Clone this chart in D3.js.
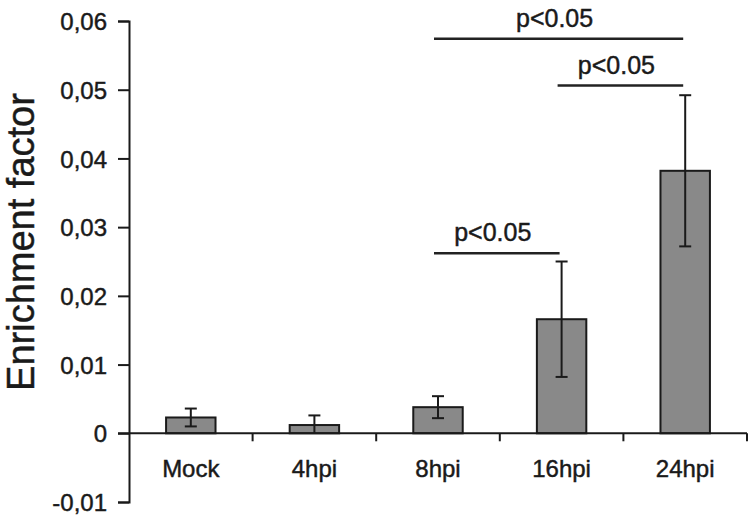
<!DOCTYPE html>
<html>
<head>
<meta charset="utf-8">
<script src="https://cdn.jsdelivr.net/npm/d3@7"></script>
<style>
  body { margin: 0; background: #fff; }
  svg text { font-family: "Liberation Sans", Arial, sans-serif; fill: #1a1a1a; stroke: #1a1a1a; stroke-width: 0.45px; }
</style>
</head>
<body>
<svg width="750" height="515"></svg>
<script>
  // data
  const categories = ['Mock', '4hpi', '8hpi', '16hpi', '24hpi'];
  const means = [0.0023, 0.0012, 0.0038, 0.0166, 0.0382];
  const errors = [0.0013, 0.0014, 0.0016, 0.0084, 0.011];
  const yTicks = [-0.01, 0, 0.01, 0.02, 0.03, 0.04, 0.05, 0.06];
  const yTickLabels = ['-0,01', '0', '0,01', '0,02', '0,03', '0,04', '0,05', '0,06'];
  const sigFrom = ['8hpi', '16hpi', '8hpi'];
  const sigTo = ['24hpi', '24hpi', '16hpi'];
  const sigLevel = [0.0574, 0.0506, 0.0262];
  const sigLabel = ['p<0.05', 'p<0.05', 'p<0.05'];

  const svg = d3.select('svg');
  const ink = '#1a1a1a';

  const x = d3.scaleBand()
    .domain(categories)
    .range([129, 747])
    .paddingInner(0.6)
    .paddingOuter(0.3);

  const y = d3.scaleLinear()
    .domain([-0.01, 0.06])
    .range([502, 21]);

  const step = x.step();
  const x0 = x.range()[0];
  const center = c => x(c) + x.bandwidth() / 2;

  // y axis
  const yAxis = d3.axisLeft(y)
    .tickValues(yTicks)
    .tickFormat((d, i) => yTickLabels[i])
    .tickSize(11)
    .tickPadding(11);

  const yAxisG = svg.append('g')
    .attr('transform', `translate(${x0},0)`)
    .call(yAxis);
  yAxisG.selectAll('path, line').attr('stroke', ink).attr('stroke-width', 2);
  yAxisG.selectAll('text')
    .attr('font-size', 24)
    .attr('fill', ink)
    .attr('dy', '0.36em');

  svg.append('text')
    .attr('transform', 'translate(34,242) rotate(-90)')
    .attr('text-anchor', 'middle')
    .attr('font-size', 38)
    .text('Enrichment factor');

  // bars
  svg.selectAll('rect.bar').data(categories)
    .enter().append('rect')
      .attr('class', 'bar')
      .attr('x', d => x(d))
      .attr('width', x.bandwidth())
      .attr('y', (d, i) => y(means[i]))
      .attr('height', (d, i) => y(0) - y(means[i]))
      .attr('fill', '#898989')
      .attr('stroke', ink)
      .attr('stroke-width', 2);

  // x axis line and category dividers
  svg.append('line')
    .attr('x1', x0 - 11).attr('x2', x.range()[1])
    .attr('y1', y(0)).attr('y2', y(0))
    .attr('stroke', ink).attr('stroke-width', 2);

  svg.selectAll('line.divider').data(categories)
    .enter().append('line')
      .attr('class', 'divider')
      .attr('x1', (d, i) => x0 + (i + 1) * step)
      .attr('x2', (d, i) => x0 + (i + 1) * step)
      .attr('y1', y(0)).attr('y2', y(0) + 8)
      .attr('stroke', ink).attr('stroke-width', 2);

  svg.selectAll('text.cat').data(categories)
    .enter().append('text')
      .attr('class', 'cat')
      .attr('x', d => center(d))
      .attr('y', 477)
      .attr('text-anchor', 'middle')
      .attr('font-size', 24)
      .text(d => d);

  // error bars
  const capW = 6;
  const err = svg.selectAll('g.err').data(categories)
    .enter().append('g').attr('class', 'err')
      .attr('stroke', ink).attr('stroke-width', 2);
  err.append('line')
    .attr('x1', d => center(d)).attr('x2', d => center(d))
    .attr('y1', (d, i) => y(means[i] + errors[i]))
    .attr('y2', (d, i) => y(Math.max(0, means[i] - errors[i])));
  err.append('line')
    .attr('x1', d => center(d) - capW).attr('x2', d => center(d) + capW)
    .attr('y1', (d, i) => y(means[i] + errors[i]))
    .attr('y2', (d, i) => y(means[i] + errors[i]));
  err.filter((d, i) => means[i] - errors[i] > 0).append('line')
    .attr('x1', d => center(d) - capW).attr('x2', d => center(d) + capW)
    .attr('y1', d => { const i = categories.indexOf(d); return y(means[i] - errors[i]); })
    .attr('y2', d => { const i = categories.indexOf(d); return y(means[i] - errors[i]); });

  // significance brackets
  svg.selectAll('line.sig').data(sigLevel)
    .enter().append('line')
      .attr('class', 'sig')
      .attr('x1', (d, i) => center(sigFrom[i]) - 4)
      .attr('x2', (d, i) => center(sigTo[i]) - 2)
      .attr('y1', d => y(d)).attr('y2', d => y(d))
      .attr('stroke', '#222').attr('stroke-width', 2.5);

  svg.selectAll('text.sig').data(sigLevel)
    .enter().append('text')
      .attr('class', 'sig')
      .attr('x', (d, i) => (center(sigFrom[i]) + center(sigTo[i])) / 2 - 7)
      .attr('y', d => y(d) - 12)
      .attr('text-anchor', 'middle')
      .attr('font-size', 25)
      .text((d, i) => sigLabel[i]);
</script>
</body>
</html>
